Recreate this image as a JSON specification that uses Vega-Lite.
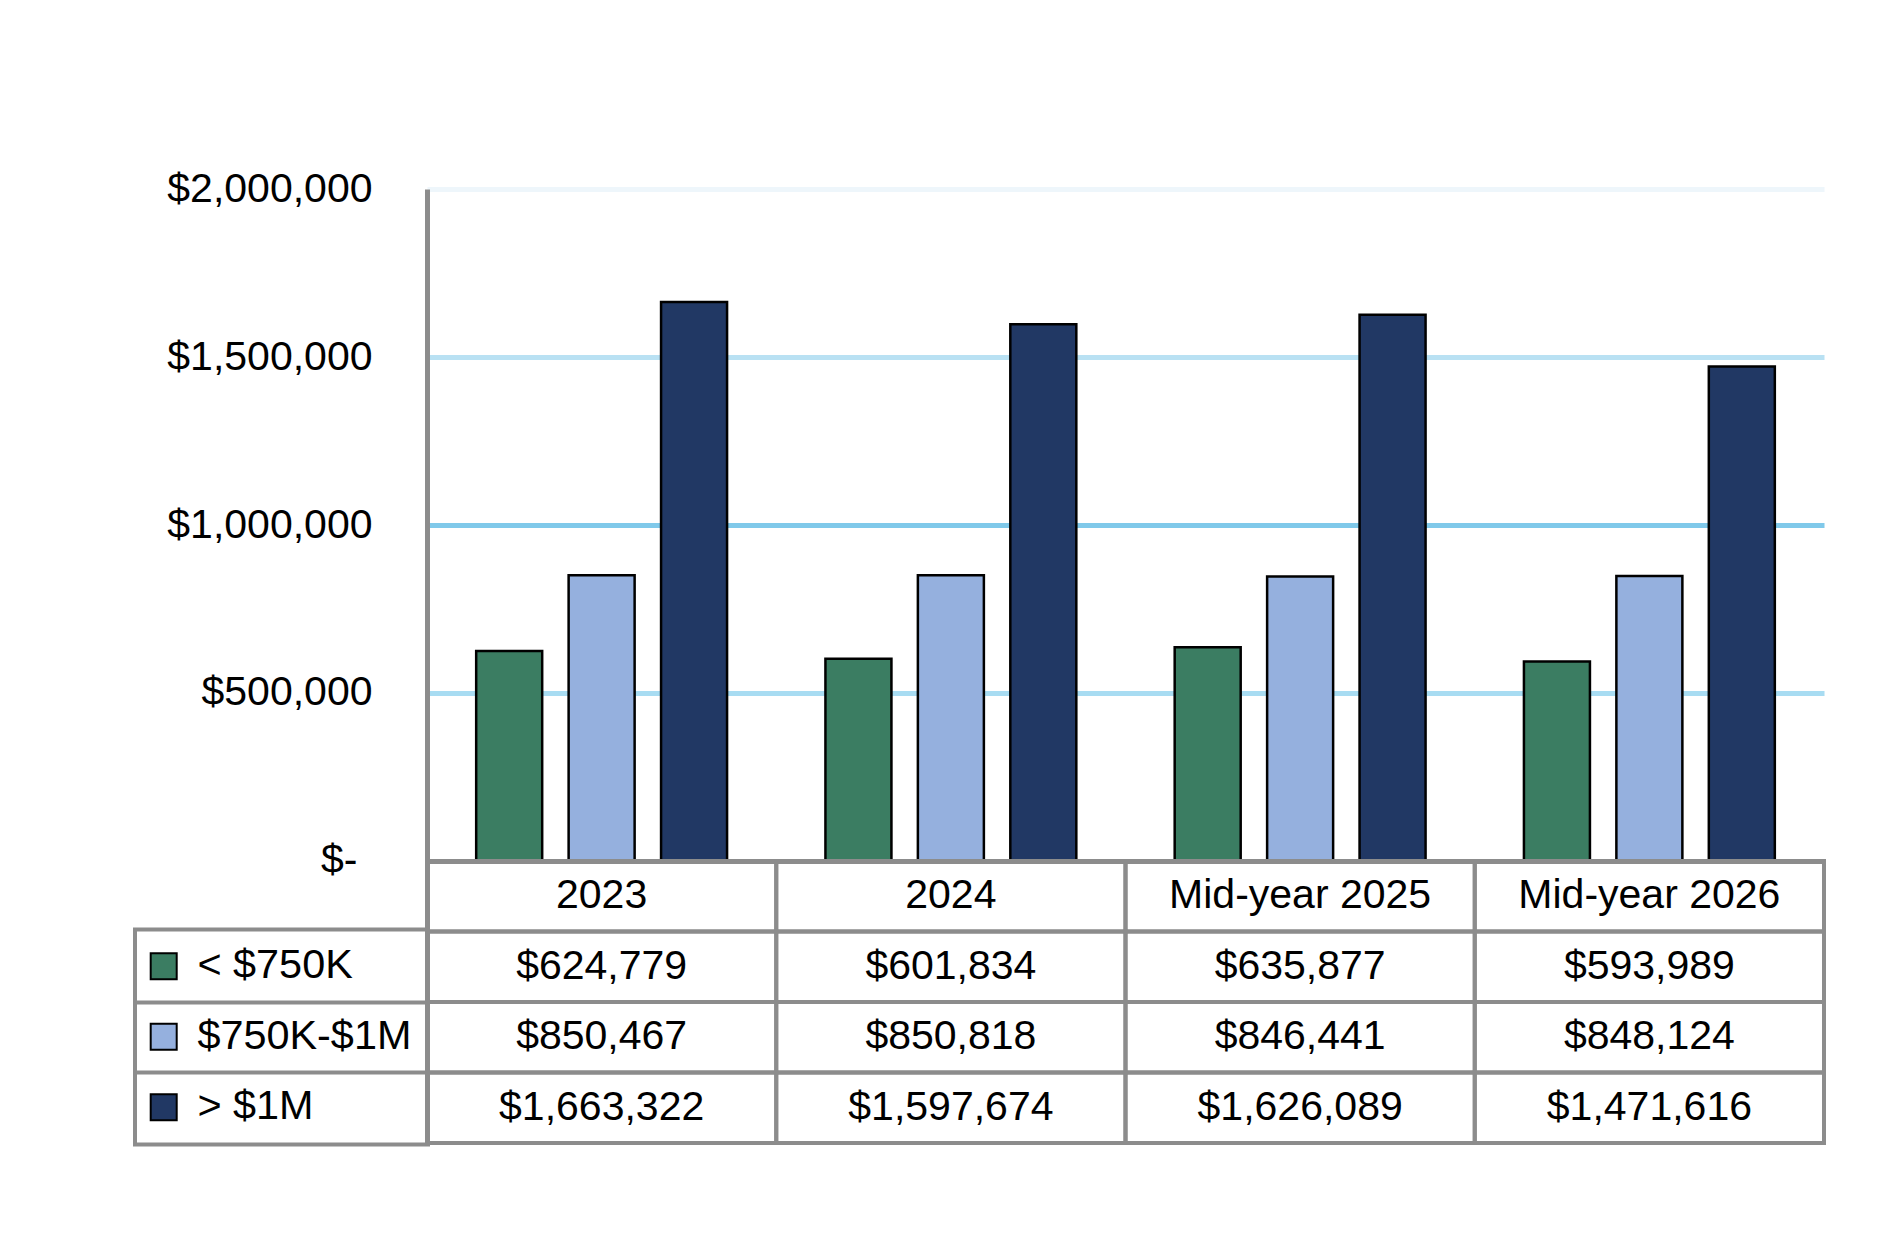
{
  "$schema": "https://vega.github.io/schema/vega-lite/v6.json",
  "autosize": "none",
  "padding": {"left": 427, "top": 189, "right": 79, "bottom": 95},
  "width": 1397,
  "height": 954,
  "background": "white",
  "config": {
    "view": {"stroke": null},
    "font": "Liberation Sans",
    "legend": {"strokeWidth": 4}
  },
  "datasets": {
    "prices": [
      {"period": "2023", "tier": "< $750K", "price": 624779},
      {"period": "2023", "tier": "$750K-$1M", "price": 850467},
      {"period": "2023", "tier": "> $1M", "price": 1663322},
      {"period": "2024", "tier": "< $750K", "price": 601834},
      {"period": "2024", "tier": "$750K-$1M", "price": 850818},
      {"period": "2024", "tier": "> $1M", "price": 1597674},
      {"period": "Mid-year 2025", "tier": "< $750K", "price": 635877},
      {"period": "Mid-year 2025", "tier": "$750K-$1M", "price": 846441},
      {"period": "Mid-year 2025", "tier": "> $1M", "price": 1626089},
      {"period": "Mid-year 2026", "tier": "< $750K", "price": 593989},
      {"period": "Mid-year 2026", "tier": "$750K-$1M", "price": 848124},
      {"period": "Mid-year 2026", "tier": "> $1M", "price": 1471616}
    ],
    "headers": [
      {"period": "2023", "tier": "header"},
      {"period": "2024", "tier": "header"},
      {"period": "Mid-year 2025", "tier": "header"},
      {"period": "Mid-year 2026", "tier": "header"}
    ]
  },
  "data": {"name": "prices"},
  "resolve": {"scale": {"y": "independent"}, "axis": {"y": "independent"}},
  "layer": [
    {
      "mark": {"type": "bar", "stroke": "black", "strokeWidth": 2.5},
      "encoding": {
        "x": {
          "field": "period",
          "type": "nominal",
          "sort": null,
          "axis": null,
          "scale": {"paddingInner": 0, "paddingOuter": 0}
        },
        "xOffset": {
          "field": "tier",
          "type": "nominal",
          "sort": ["< $750K", "$750K-$1M", "> $1M"],
          "scale": {"paddingInner": 0.286, "paddingOuter": 0.532}
        },
        "y": {
          "field": "price",
          "type": "quantitative",
          "scale": {"domain": [-839286, 2000000], "nice": false, "zero": false},
          "axis": {
            "orient": "left",
            "title": null,
            "values": [0, 500000, 1000000, 1500000, 2000000],
            "format": "$,.0f",
            "labelExpr": "datum.value === 0 ? '$-' : datum.label",
            "labelFont": "Liberation Sans",
            "labelFontSize": 41,
            "labelColor": "black",
            "labelLimit": 500,
            "labelPadding": {
              "condition": {"test": "datum.value === 0", "value": 70},
              "value": 55
            },
            "ticks": false,
            "tickSize": 0,
            "domain": true,
            "domainColor": "#8c8c8c",
            "domainWidth": 5,
            "grid": true,
            "gridWidth": 5,
            "gridColor": {
              "condition": [
                {"test": "datum.value === 0", "value": "#8c8c8c"},
                {"test": "datum.value === 2000000", "value": "#eef6fb"},
                {"test": "datum.value === 1500000", "value": "#b9e1f3"},
                {"test": "datum.value === 1000000", "value": "#80c9ea"}
              ],
              "value": "#a8dcf2"
            }
          }
        },
        "color": {
          "field": "tier",
          "type": "nominal",
          "scale": {
            "domain": ["< $750K", "$750K-$1M", "> $1M"],
            "range": ["#3b7d62", "#95b0de", "#213864"]
          },
          "legend": {
            "title": null,
            "orient": "none",
            "legendX": -292,
            "legendY": 740.5,
            "direction": "vertical",
            "symbolType": "square",
            "symbolSize": 676,
            "symbolStrokeColor": "black",
            "symbolStrokeWidth": 2,
            "symbolOpacity": 1,
            "symbolOffset": -8,
            "labelFont": "Liberation Sans",
            "labelFontSize": 41.4,
            "labelColor": "black",
            "labelLimit": 400,
            "labelOffset": 13,
            "rowPadding": 27.5,
            "padding": 16,
            "strokeColor": "#8c8c8c"
          }
        }
      }
    },
    {
      "layer": [
        {
          "mark": {"type": "rect", "fillOpacity": 0, "stroke": "#8c8c8c", "strokeWidth": 4},
          "encoding": {
            "x": {"field": "period", "type": "nominal", "sort": null, "axis": null},
            "y": {
              "field": "tier",
              "type": "nominal",
              "scale": {
                "domain": ["f1", "f2", "f3", "f4", "f5", "f6", "f7", "f8", "header", "< $750K", "$750K-$1M", "> $1M"],
                "paddingInner": 0,
                "paddingOuter": 0.766,
                "align": 1
              },
              "axis": {
                "orient": "left",
                "title": null,
                "values": ["< $750K", "$750K-$1M"],
                "bandPosition": 1,
                "labels": false,
                "domain": false,
                "grid": false,
                "ticks": true,
                "tickSize": 292,
                "tickWidth": 4,
                "tickColor": "#8c8c8c"
              }
            }
          }
        },
        {
          "mark": {"type": "text", "font": "Liberation Sans", "fontSize": 41, "color": "black", "baseline": "middle"},
          "encoding": {
            "x": {"field": "period", "type": "nominal", "sort": null},
            "y": {"field": "tier", "type": "nominal"},
            "text": {"field": "price", "type": "quantitative", "format": "$,.0f"}
          }
        },
        {
          "data": {"name": "headers"},
          "mark": {"type": "rect", "fillOpacity": 0, "stroke": "#8c8c8c", "strokeWidth": 4},
          "encoding": {
            "x": {"field": "period", "type": "nominal", "sort": null},
            "y": {"field": "tier", "type": "nominal"}
          }
        },
        {
          "data": {"name": "headers"},
          "mark": {"type": "text", "font": "Liberation Sans", "fontSize": 41, "color": "black", "baseline": "middle"},
          "encoding": {
            "x": {"field": "period", "type": "nominal", "sort": null},
            "y": {"field": "tier", "type": "nominal"},
            "text": {"field": "period", "type": "nominal"}
          }
        }
      ]
    }
  ]
}
